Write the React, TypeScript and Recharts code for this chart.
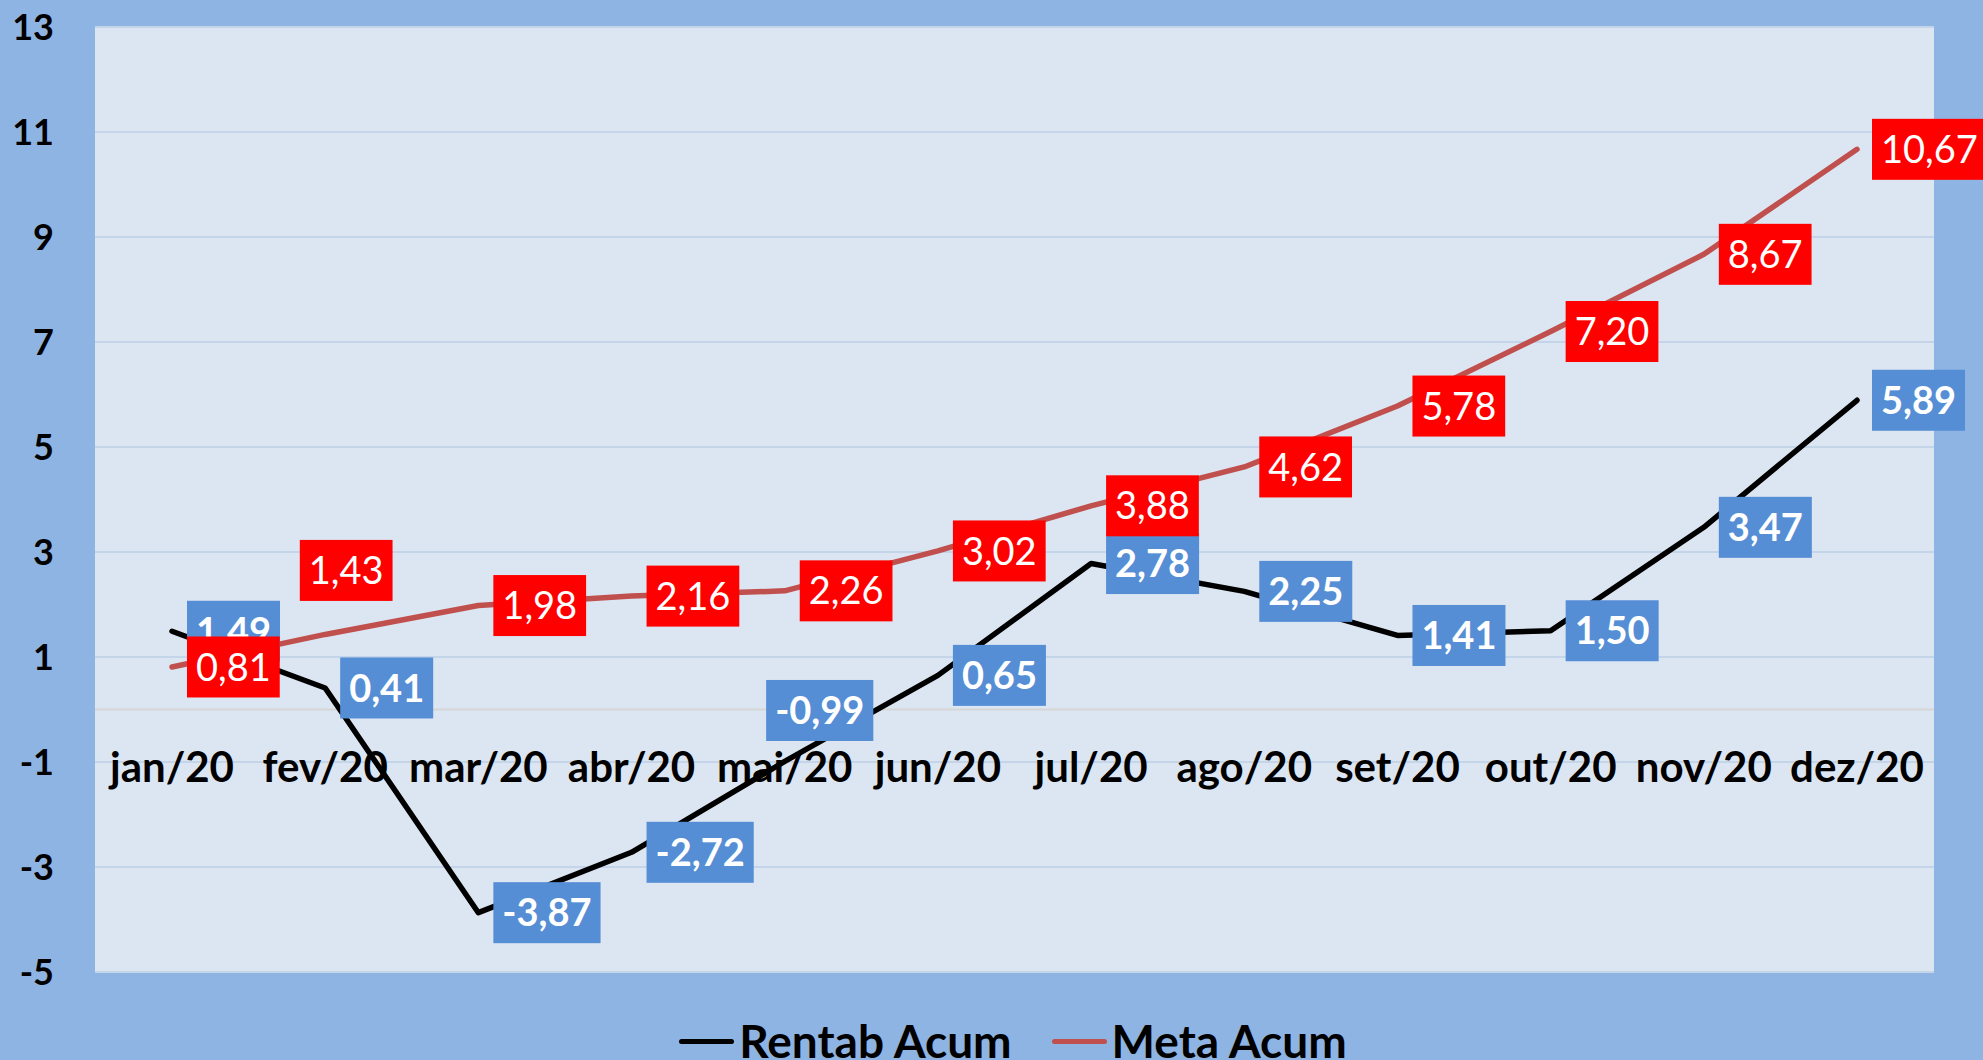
import React from 'react';
import { LineChart, Line, XAxis, YAxis, CartesianGrid, ReferenceLine, LabelList, Legend } from 'recharts';

// ---- data ----
const months = ['jan/20', 'fev/20', 'mar/20', 'abr/20', 'mai/20', 'jun/20', 'jul/20', 'ago/20', 'set/20', 'out/20', 'nov/20', 'dez/20'];
const rentabAcum = [1.49, 0.41, -3.87, -2.72, -0.99, 0.65, 2.78, 2.25, 1.41, 1.5, 3.47, 5.89];
const metaAcum = [0.81, 1.43, 1.98, 2.16, 2.26, 3.02, 3.88, 4.62, 5.78, 7.2, 8.67, 10.67];
const yTicks = [-5, -3, -1, 1, 3, 5, 7, 9, 11, 13];
const seriesNames = ['Rentab Acum', 'Meta Acum'];

const data = months.map((m, i) => ({ month: m, rentab: rentabAcum[i], meta: metaAcum[i] }));

// ---- layout / style ----
const W = 1983;
const H = 1060;
const PLOT_LEFT = 95;
const PLOT_TOP = 27;
const PLOT_RIGHT = 1934;
const PLOT_BOTTOM = 972;
const LEGEND_H = 46;
const XAXIS_H = 1;
const Y_MIN = -5;
const Y_MAX = 13;
const ZERO_Y = PLOT_TOP + (Y_MAX / (Y_MAX - Y_MIN)) * (PLOT_BOTTOM - PLOT_TOP);
const FONT = 'Lato, "Open Sans", sans-serif';

const OUTER_BG = '#8EB4E3';
const PLOT_BG = '#DCE6F2';
const GRID = '#C4D5EA';
const RENTAB_COLOR = '#000000';
const META_COLOR = '#C0504D';
const RENTAB_BOX = '#558ED5';
const META_BOX = '#FF0000';

const LABEL_FS = 38;
const PAD_X = 9;
const BOX_H = 61;
const GAP = 15;
const LINE_W = 5.5;

// manual label nudges (box centre relative to point)
const rentabShift: Record<number, { dx: number; dy: number }> = { 4: { dx: 35, dy: -51 } };
const metaShift: Record<number, { dx: number; dy: number }> = { 1: { dx: 21, dy: -64 } };

let ctx: CanvasRenderingContext2D | null = null;
function textWidth(s: string, font: string) {
  if (!ctx && typeof document !== 'undefined') ctx = document.createElement('canvas').getContext('2d');
  if (!ctx) return s.length * LABEL_FS * 0.55;
  ctx.font = font;
  return ctx.measureText(s).width;
}

const fmt = (v: number) => v.toFixed(2).replace('.', ',');

const makeLabel = (fill: string, weight: number, shifts: Record<number, { dx: number; dy: number }>) => (props: any) => {
  const { x, y, value, index } = props;
  if (x == null || y == null || value == null) return null;
  const text = fmt(Number(value));
  const w = textWidth(text, `${weight} ${LABEL_FS}px Lato`) + 2 * PAD_X;
  const s = shifts[index];
  const cx = s ? x + s.dx : x + GAP + w / 2;
  const cy = s ? y + s.dy : y;
  return (
    <g>
      <rect x={cx - w / 2} y={cy - BOX_H / 2} width={w} height={BOX_H} fill={fill} />
      <text
        x={cx}
        y={cy + 0.358 * LABEL_FS}
        textAnchor="middle"
        fill="#FFFFFF"
        fontFamily={FONT}
        fontWeight={weight}
        fontSize={LABEL_FS}
      >
        {text}
      </text>
    </g>
  );
};

const XTick = (props: any) => {
  const { x, payload } = props;
  return (
    <text x={x} y={ZERO_Y + 72} textAnchor="middle" fontFamily={FONT} fontWeight={700} fontSize={42} fill="#000">
      {payload.value}
    </text>
  );
};

const LegendContent = (props: any) => {
  const payload = [...(props.payload || [])].sort(
    (a: any, b: any) => seriesNames.indexOf(a.value) - seriesNames.indexOf(b.value)
  );
  return (
    <div
      style={{
        display: 'flex',
        justifyContent: 'center',
        alignItems: 'center',
        height: LEGEND_H,
        paddingLeft: 43,
        boxSizing: 'border-box',
      }}
    >
      {payload.map((p: any, i: number) => (
        <div key={i} style={{ display: 'flex', alignItems: 'center', marginLeft: i === 0 ? 0 : 40 }}>
          <div style={{ width: 55, height: 5, borderRadius: 3, background: p.color, marginRight: 5 }} />
          <span style={{ fontFamily: FONT, fontWeight: 700, fontSize: 46, lineHeight: 1, color: '#000' }}>{p.value}</span>
        </div>
      ))}
    </div>
  );
};

export default function App() {
  return (
    <div style={{ position: 'absolute', left: 0, top: 0, width: W, height: H, background: OUTER_BG, overflow: 'hidden' }}>
      <LineChart
        width={W}
        height={H}
        data={data}
        margin={{ top: PLOT_TOP, right: W - PLOT_RIGHT, left: 0, bottom: H - PLOT_BOTTOM - LEGEND_H - XAXIS_H }}
      >
        <CartesianGrid vertical={false} stroke={GRID} strokeWidth={2} fill={PLOT_BG} fillOpacity={1} />
        <XAxis
          dataKey="month"
          axisLine={false}
          tickLine={false}
          interval={0}
          padding={{ left: 77, right: 77 }}
          tick={<XTick />}
          height={XAXIS_H}
        />
        <YAxis
          width={PLOT_LEFT}
          domain={[Y_MIN, Y_MAX]}
          ticks={yTicks}
          interval={0}
          allowDataOverflow
          axisLine={false}
          tickLine={false}
          tickSize={0}
          tickMargin={41}
          tick={{ fontFamily: FONT, fontWeight: 700, fontSize: 36, fill: '#000' }}
        />
        <ReferenceLine y={0} stroke="#D6D6D6" strokeWidth={2} />
        <Legend
          verticalAlign="bottom"
          wrapperStyle={{ top: 1018, left: 0, width: W, height: LEGEND_H, bottom: 'auto' }}
          content={<LegendContent />}
        />
        <Line
          type="linear"
          dataKey="rentab"
          name={seriesNames[0]}
          stroke={RENTAB_COLOR}
          strokeWidth={LINE_W}
          strokeLinecap="round"
          strokeLinejoin="round"
          dot={false}
          activeDot={false}
          isAnimationActive={false}
        >
          <LabelList dataKey="rentab" content={makeLabel(RENTAB_BOX, 700, rentabShift)} />
        </Line>
        <Line
          type="linear"
          dataKey="meta"
          name={seriesNames[1]}
          stroke={META_COLOR}
          strokeWidth={LINE_W}
          strokeLinecap="round"
          strokeLinejoin="round"
          dot={false}
          activeDot={false}
          isAnimationActive={false}
        >
          <LabelList dataKey="meta" content={makeLabel(META_BOX, 400, metaShift)} />
        </Line>
      </LineChart>
    </div>
  );
}
